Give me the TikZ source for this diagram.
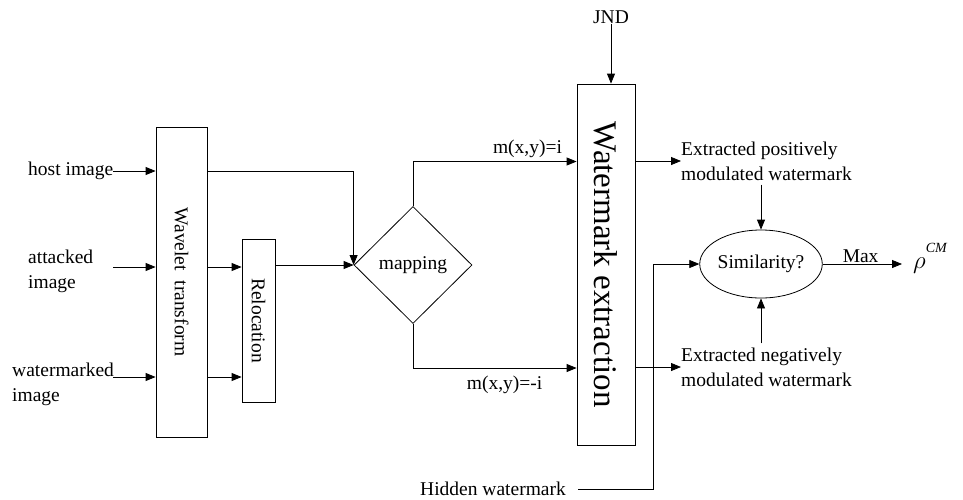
\documentclass[tikz,border=0pt]{standalone}
\usepackage{fontspec}
\setmainfont{Liberation Serif}
\usetikzlibrary{arrows.meta,shapes.geometric,positioning}
\tikzset{
    flow/.style={-{Triangle[length=10pt, width=8pt]}, line width=0.8pt},
    block/.style={draw, line width=0.8pt, inner sep=0pt},
    txt/.style={inner sep=0pt, font=\fontsize{19.5}{25}\selectfont},
    vtxt/.style={txt, rotate=-90}
}

\begin{document}
\begin{tikzpicture}[x=1pt, y=-1pt]
    \useasboundingbox (0,0) rectangle (963,499);

    % Inputs
    \node[txt, anchor=west] (host) at (28,171) {host image};
    \node[txt, anchor=west, align=left] (att) at (28,271) {attacked\\image};
    \node[txt, anchor=west, align=left] (wmk) at (12,384) {watermarked\\image};
    \coordinate (attin) at (113,267);
    \coordinate (wmkin) at (113,377);

    % Blocks
    \node[block, minimum width=51pt, minimum height=310pt,
          label={[vtxt]center:Wavelet\ \ transform}] (wt) at (181.5,282) {};
    \node[block, minimum width=33pt, minimum height=163pt,
          label={[vtxt]center:Relocation}] (rel) at (258.5,320.5) {};
    \node[block, txt, diamond, minimum width=118pt, minimum height=117pt] (map) at (413,265) {mapping};
    \node[block, minimum width=58pt, minimum height=361pt,
          label={[vtxt, font=\fontsize{33}{36}\selectfont]center:Watermark extraction}] (wex) at (606,264.5) {};
    \node[block, txt, ellipse, minimum width=112pt, minimum height=68pt] (sim) at (761,264) {Similarity?};

    % Outputs
    \node[txt] (jnd) at (611,17) {JND};
    \node[txt, anchor=west, align=left] (pos) at (681,161) {Extracted positively\\modulated watermark};
    \node[txt, anchor=west, align=left] (neg) at (681,367) {Extracted negatively\\modulated watermark};
    \node[txt, anchor=west] (hid) at (420,489) {Hidden watermark};
    \coordinate (hidbend) at (653,489);
    \node[inner sep=0pt, anchor=base west] (rho) at (913,268)
        {\fontsize{30}{32}\selectfont$\rho$\raisebox{16pt}{\fontsize{14}{14}\selectfont\itshape CM}};

    % Connectors
    \draw[flow] (host.east) -- (host.east -| wt.west);
    \draw[flow] (attin) -- (attin -| wt.west);
    \draw[flow] (wmkin) -- (wmkin -| wt.west);
    \draw[flow] (wt.east |- attin) -- (rel.west |- attin);
    \draw[flow] (wt.east |- wmkin) -- (rel.west |- wmkin);
    \draw[flow] (wt.east |- host.east) -| (map.west);
    \draw[flow] (rel.east |- map.west) -- (map.west);
    \draw[flow] (map.north) |- ([yshift=103pt]wex.west)
        node[txt, pos=0.85, above=3pt] {m(x,y)=i};
    \draw[flow] (map.south) |- ([yshift=-103.5pt]wex.west)
        node[txt, pos=0.78, below=8pt] {m(x,y)=-i};
    \draw[flow] (jnd.south) -- (jnd.south |- wex.north);
    \draw[flow] (wex.east |- pos.west) -- (pos.west);
    \draw[flow] (wex.east |- neg.west) -- (neg.west);
    \draw[flow, shorten <=4pt] (pos.south -| sim.north) -- (sim.north);
    \draw[flow, shorten <=4pt] (neg.north -| sim.south) -- (sim.south);
    \draw[flow, shorten <=12pt] (hid.east) -- (hidbend) |- (sim.west);
    \draw[flow, shorten >=11pt] (sim.east) -- (sim.east -| rho.west)
        node[txt, pos=0.42, above=1pt] {Max};
\end{tikzpicture}
\end{document}
